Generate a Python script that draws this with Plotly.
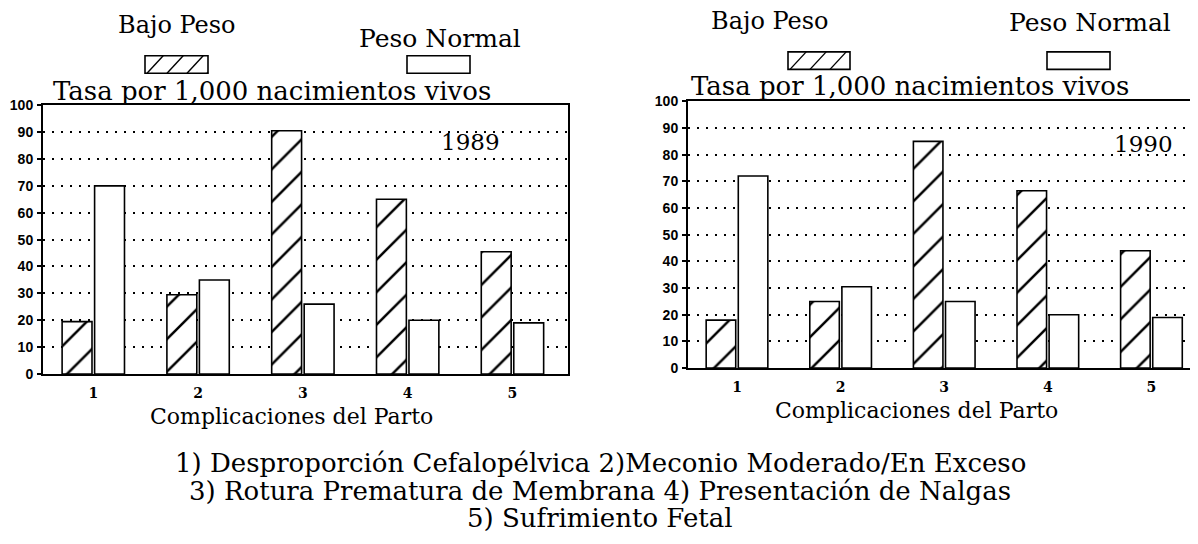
import plotly.graph_objects as go

# ---- data ----
categorias = ['1', '2', '3', '4', '5']
bajo_1989 = [19.5, 29.5, 90.5, 65, 45.5]
normal_1989 = [70, 35, 26, 20, 19]
bajo_1990 = [18, 25, 85, 66.5, 44]
normal_1990 = [72, 30.5, 25, 20, 19]
y_ticks = [0, 10, 20, 30, 40, 50, 60, 70, 80, 90, 100]

# page body has an 8px margin, so the figure is shifted by that much
OFF = 8
W, H = 1198 - OFF, 544 - OFF
SERIF = 'DejaVu Serif'


def px(x):
    return (x - OFF) / W


def py(y):
    return 1 - (y - OFF) / H


x_num = [int(c) for c in categorias]

fig = go.Figure()

for bajo, normal, xa, ya in [(bajo_1989, normal_1989, 'x', 'y'),
                             (bajo_1990, normal_1990, 'x2', 'y2')]:
    fig.add_trace(go.Bar(
        x=x_num, y=bajo, xaxis=xa, yaxis=ya, name='Bajo Peso',
        marker=dict(color='white', line=dict(color='black', width=1.6),
                    pattern=dict(shape='/', fgcolor='black', bgcolor='white',
                                 fgopacity=1, size=23, solidity=0.11)),
        showlegend=False,
    ))
    fig.add_trace(go.Bar(
        x=x_num, y=normal, xaxis=xa, yaxis=ya, name='Peso Normal',
        marker=dict(color='white', line=dict(color='black', width=1.6)),
        showlegend=False,
    ))

xcommon = dict(
    tickmode='array', tickvals=x_num, ticktext=categorias,
    ticks='', showgrid=False, zeroline=False,
    showline=True, linecolor='black', linewidth=2, mirror=True,
    tickfont=dict(family=SERIF, size=14, color='black', weight='bold'),
    ticklabelstandoff=5,
)
ycommon = dict(
    range=[0, 100], tickmode='array', tickvals=y_ticks,
    ticks='outside', ticklen=4, tickcolor='black', tickwidth=1.5,
    showgrid=True, gridcolor='black', gridwidth=1.6, griddash='2px,7px',
    zeroline=False, showline=True, linecolor='black', linewidth=2, mirror=True,
    tickfont=dict(family='Liberation Sans', size=14, color='black', weight='bold'),
    ticklabelstandoff=1,
)

fig.update_layout(
    width=W, height=H,
    margin=dict(l=0, r=0, t=0, b=0),
    paper_bgcolor='white', plot_bgcolor='white',
    barmode='group', bargap=0.38, bargroupgap=0.08,
    xaxis=dict(domain=[px(43), px(568)], range=[0.52, 5.53], anchor='y', **xcommon),
    yaxis=dict(domain=[py(377), py(100)], anchor='x', **ycommon),
    xaxis2=dict(domain=[px(688), min(px(1196), 1)], range=[0.527, 5.43], anchor='y2', **xcommon),
    yaxis2=dict(domain=[py(371), py(96)], anchor='x2', **ycommon),
)

# ---- texts ----
def txt(x, y, s, size=22):
    fig.add_annotation(x=px(x), y=py(y), xref='paper', yref='paper', text=s,
                       showarrow=False, xanchor='center', yanchor='middle',
                       font=dict(family=SERIF, size=size, color='black'))


txt(177, 17, 'Bajo Peso', 24)
txt(440, 31, 'Peso Normal', 25)
txt(272, 85, 'Tasa por 1,000 nacimientos vivos', 26)
txt(291, 421, 'Complicaciones del Parto', 22)

txt(770, 13, 'Bajo Peso', 24)
txt(1090, 15, 'Peso Normal', 25)
txt(910, 80, 'Tasa por 1,000 nacimientos vivos', 26)
txt(916, 415, 'Complicaciones del Parto', 22)

fig.add_annotation(x=4.60, y=86.5, xref='x', yref='y', text='1989', showarrow=False,
                   font=dict(family=SERIF, size=23, color='black'))
fig.add_annotation(x=4.92, y=84, xref='x2', yref='y2', text='1990', showarrow=False,
                   font=dict(family=SERIF, size=23, color='black'))

txt(600, 469, '1) Desproporción Cefalopélvica 2)Meconio Moderado/En Exceso', 26)
txt(600, 498, '3) Rotura Prematura de Membrana 4) Presentación de Nalgas', 26)
txt(600, 525, '5) Sufrimiento Fetal', 26)

# ---- legend boxes ----
def box(x0, y0, x1, y1, hatch):
    fig.add_shape(type='rect', xref='paper', yref='paper',
                  x0=px(x0), x1=px(x1), y0=py(y1), y1=py(y0),
                  line=dict(color='black', width=1.6), fillcolor='white')
    if hatch:
        h = y1 - y0
        step = 20
        xs = x0 + 2
        while xs < x1:
            xa, xb = xs, xs + h * 0.9
            ya, yb = y1, y0
            if xb > x1:
                yb = y1 - (x1 - xa) / 0.9
                xb = x1
            fig.add_shape(type='line', xref='paper', yref='paper',
                          x0=px(xa), y0=py(ya), x1=px(xb), y1=py(yb),
                          line=dict(color='black', width=1.4))
            xs += step


box(145, 49, 208, 67, True)
box(407, 49, 470, 67, False)
box(788, 45, 850, 63, True)
box(1047, 45, 1110, 63, False)

fig.write_html('out.html')
